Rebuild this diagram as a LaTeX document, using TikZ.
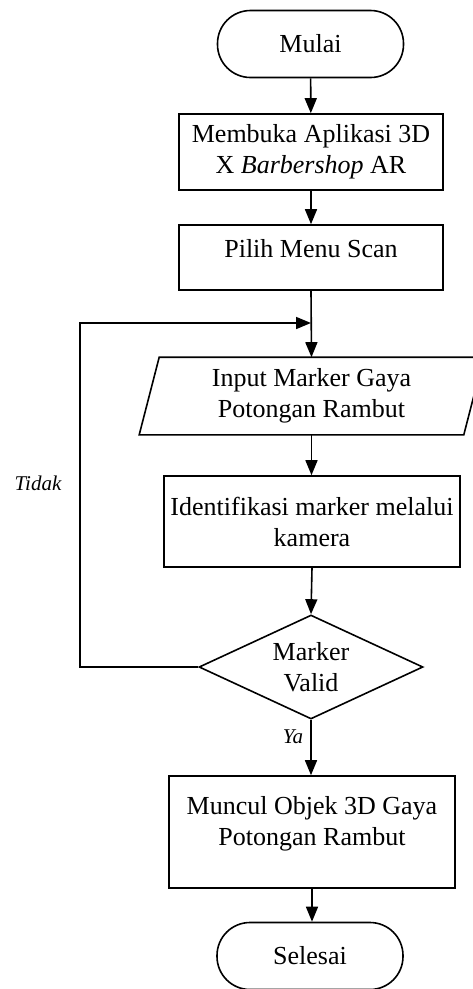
\documentclass[tikz,border=0pt]{standalone}
\usepackage{fontspec}
\setmainfont{Liberation Serif}
\usetikzlibrary{arrows.meta,shapes.geometric}
\begin{document}
\begin{tikzpicture}[x=1pt,y=-1pt,
  base/.style={draw=black,line width=1.6pt,inner sep=0pt,align=center,font=\fontsize{26}{31}\selectfont},
  proc/.style={base,rectangle},
  term/.style={base,rectangle,rounded corners=33pt,minimum width=186pt,minimum height=67pt},
  decision/.style={base,diamond,aspect=2.15},
  io/.style={base,draw=none,rectangle},
  arr/.style={line width=1.6pt,-{Triangle[length=15pt,width=12pt]}},
  lbl/.style={font=\fontsize{21}{25}\selectfont\itshape,inner sep=0pt}]
\useasboundingbox (0,0) rectangle (472,989);

\node[term] (mulai) at (310.5,44) {Mulai};
\node[proc,minimum width=264pt,minimum height=76pt] (buka) at (311,152)
  {Membuka Aplikasi 3D\\X \textit{Barbershop} AR};
\node[proc,minimum width=264pt,minimum height=65pt,text depth=19pt] (menu) at (311,257.5)
  {Pilih Menu Scan};
\node[io,minimum width=323pt,minimum height=76pt] (inp) at (311.5,396)
  {Input Marker Gaya\\Potongan Rambut};
\draw[line width=1.6pt] ([xshift=-10pt]inp.south west) -- ([xshift=10pt]inp.north west)
  -- ([xshift=10pt]inp.north east) -- ([xshift=-10pt]inp.south east) -- cycle;
\node[proc,minimum width=296pt,minimum height=91pt] (ident) at (312,521.5)
  {Identifikasi marker melalui\\kamera};
\node[decision,minimum width=224pt,minimum height=104pt] (valid) at (311,667)
  {Marker\\Valid};
\node[proc,minimum width=286pt,minimum height=112pt,text depth=23pt] (muncul) at (312,832)
  {Muncul Objek 3D Gaya\\Potongan Rambut};
\node[term] (selesai) at (310,956) {Selesai};

\coordinate (j) at (311,323);
\coordinate (lp) at (80,667);

\draw[arr] (mulai) -- (buka);
\draw[arr] (buka) -- (menu);
\draw[arr] (menu.south) -- (inp.north);
\draw[arr] (inp.south) -- (ident.north -| inp.south);
\draw[arr] (ident.south) -- (valid.north);
\draw[arr] (valid.south) -- (muncul.north -| valid.south);
\draw[arr] (muncul.south) -- (selesai.north -| muncul.south);
\draw[arr] (valid.west) -- (lp) |- (j);

\node[lbl] (tidak) at (38,483) {Tidak};
\node[lbl] (ya) at (293,737) {Ya};
\end{tikzpicture}
\end{document}
